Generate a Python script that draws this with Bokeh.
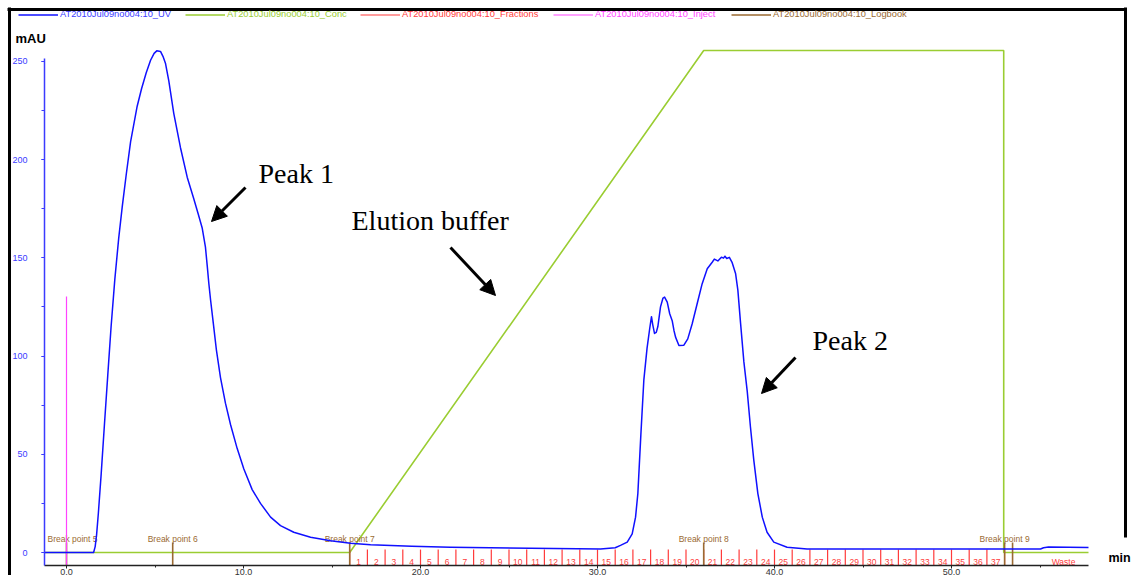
from bokeh.plotting import figure
from bokeh.models import (Range1d, LinearAxis, SingleIntervalTicker, FixedTicker,
                          PrintfTickFormatter, Label, Arrow, NormalHead, Legend,
                          LegendItem, ColumnDataSource)
from bokeh.core.properties import value
from bokeh.embed import file_html
from bokeh.resources import INLINE

# ---------------- data ----------------
uv_time = [-1.24, 1.53, 1.62, 1.70, 1.80, 1.96, 2.15, 2.33, 2.52, 2.73, 2.95, 3.15, 3.37,
           3.62, 3.99, 4.24, 4.50, 4.75, 4.95, 5.10, 5.31, 5.45, 5.59, 5.78, 6.06, 6.44,
           6.82, 7.19, 7.45, 7.67, 7.85, 7.95, 8.04, 8.14, 8.29, 8.47, 8.70, 8.98, 9.27,
           9.64, 10.02, 10.49, 10.96, 11.53, 12.09, 12.84, 13.79, 14.92, 16.05, 17.18,
           19.5, 21.69, 26.21, 30.17, 31.0, 31.3, 31.68, 31.96, 32.15, 32.28, 32.45,
           32.62, 32.80, 32.95, 33.05, 33.12, 33.22, 33.32, 33.41, 33.56, 33.70, 33.79,
           33.94, 34.08, 34.22, 34.32, 34.41, 34.60, 34.88, 35.10, 35.35, 35.63, 35.91,
           36.20, 36.48, 36.60, 36.80, 37.00, 37.12, 37.20, 37.30, 37.45, 37.61, 37.80,
           37.93, 38.08, 38.27, 38.46, 38.64, 38.83, 39.06, 39.31, 39.58, 39.96, 40.71,
           41.84, 47.12, 55.03, 55.20, 55.48, 57.74]
uv_mau = [0.0, 0.0, 3.0, 9.0, 20.0, 40.0, 66.0, 90.0, 115.0, 139.0, 160.0, 176.0, 192.0,
          209.0, 227.0, 236.0, 244.0, 250.5, 254.0, 255.3, 255.0, 252.5, 249.0, 240.0, 223.5, 206.0,
          191.0, 180.0, 172.0, 165.0, 155.4, 146.0, 137.0, 128.5, 117.0, 103.0, 89.0, 76.0, 65.0,
          53.0, 42.5, 32.0, 25.0, 18.0, 13.7, 10.3, 7.8, 6.0, 4.7, 3.9,
          3.2, 2.7, 2.1, 1.8, 2.4, 3.6, 5.3, 9.5, 18.0, 30.0, 60.0,
          88.0, 104.0, 114.0, 120.0, 116.0, 111.5, 112.0, 115.0, 125.0, 129.5, 130.0,
          127.4, 121.5, 118.0, 113.0, 109.6, 105.3, 105.5, 108.7, 116.4, 126.6, 136.7,
          144.4, 147.7, 149.3, 148.4, 150.3, 149.8, 150.8, 149.6, 150.2, 147.5, 142.0,
          133.5, 117.0, 97.0, 82.0, 64.0, 47.0, 30.0, 18.0, 10.3, 5.3, 2.7,
          1.8, 1.8, 1.8, 2.4, 2.8, 2.6]

conc_time = [-1.24, 16.0, 36.0, 52.95, 52.95, 57.74]
conc_pct = [0, 0, 100, 100, 0, 0]

fraction_edges = [16.0, 17.0, 18.0, 19.0, 20.0, 21.0, 22.0, 23.0, 24.0, 25.0, 26.0, 27.0,
                  28.0, 29.0, 30.0, 31.0, 32.0, 33.0, 34.0, 35.0, 36.0, 37.0, 38.0, 39.0,
                  40.0, 41.0, 42.0, 43.0, 44.0, 45.0, 46.0, 47.0, 48.0, 49.0, 50.0, 51.0,
                  52.0, 53.0]
fraction_names = ["1", "2", "3", "4", "5", "6", "7", "8", "9", "10", "11", "12", "13",
                  "14", "15", "16", "17", "18", "19", "20", "21", "22", "23", "24", "25",
                  "26", "27", "28", "29", "30", "31", "32", "33", "34", "35", "36", "37"]
waste_name = "Waste"
run_end = 59.66

inject_time = [0.0]
inject_marker_top = [130.3]

logbook_time = [0.0, 6.0, 16.0, 36.0, 53.0, 53.45]
logbook_text = ["Break point 5", "Break point 6", "Break point 7", "Break point 8",
                "Break point 9", ""]

series_names = ["AT2010Jul09no004:10_UV", "AT2010Jul09no004:10_Conc",
                "AT2010Jul09no004:10_Fractions", "AT2010Jul09no004:10_Inject",
                "AT2010Jul09no004:10_Logbook"]

# ---------------- layout / style ----------------
W, H = 1135, 575
X0_PX, PX_PER_MIN = 66.0, 17.7
Y0_PX, PX_PER_MAU = 552.0, 1.965


def xd(px):
    return (px - X0_PX) / PX_PER_MIN


def yd(py):
    return (Y0_PX - py) / PX_PER_MAU


BLUE = "#1010ff"
BLUE_TXT = "#3b3bff"
GREEN = "#9acd32"
RED = "#ff3b3b"
MAGENTA = "#ff44ff"
BROWN = "#9a6a32"
SANS = "Liberation Sans"
SERIF = "Liberation Serif"

conc_full = yd(50)  # 100 % B sits at this mAU-equivalent height

p = figure(width=W, height=H, x_range=Range1d(xd(0), xd(W)),
           y_range=Range1d(yd(H), yd(0)), output_backend="svg",
           toolbar_location=None, x_axis_location=None, y_axis_location=None,
           min_border=0, outline_line_color=None)
p.extra_y_ranges = {"conc": Range1d(yd(H) * 100 / conc_full, yd(0) * 100 / conc_full)}
p.grid.visible = False
p.background_fill_color = "white"
p.border_fill_color = "white"

axis_bottom = yd(565)


# ---- frame border (black) built from bare axes ----
def border_axis(loc, bounds, side):
    ax = LinearAxis(fixed_location=loc, bounds=bounds, ticker=FixedTicker(ticks=[]),
                    axis_line_color="black", axis_line_width=3,
                    major_tick_line_color=None, minor_tick_line_color=None,
                    major_label_text_alpha=0)
    p.add_layout(ax, side)


border_axis(xd(8.5), (yd(H + 5), yd(7)), "left")
border_axis(yd(8.5), (xd(7), xd(1126)), "above")
border_axis(xd(1124.5), (yd(537), yd(7)), "right")

# ---- y axis (mAU) ----
yax = LinearAxis(fixed_location=xd(44), bounds=(axis_bottom, 251.5),
                 ticker=SingleIntervalTicker(interval=50, num_minor_ticks=2),
                 axis_line_color=BLUE_TXT, axis_line_width=1.5,
                 major_tick_line_color=BLUE_TXT, minor_tick_line_color=BLUE_TXT,
                 major_tick_out=3, major_tick_in=0, minor_tick_out=3, minor_tick_in=0,
                 major_label_standoff=14, major_label_text_color=BLUE_TXT,
                 major_label_text_font=SANS, major_label_text_font_size="9px")
p.add_layout(yax, "left")

# ---- x axis (min) ----
xax = LinearAxis(fixed_location=axis_bottom, bounds=(xd(44), xd(1088)),
                 ticker=SingleIntervalTicker(interval=10, num_minor_ticks=2),
                 formatter=PrintfTickFormatter(format="%.1f"),
                 axis_line_color="#222222", axis_line_width=1.5,
                 major_tick_line_color="#222222", minor_tick_line_color="#222222",
                 major_tick_out=3, major_tick_in=0, minor_tick_out=2, minor_tick_in=0,
                 major_label_standoff=0, major_label_text_color="#333333",
                 major_label_text_font=SANS, major_label_text_font_size="9px")
p.add_layout(xax, "below")

# ---- curves & markers ----
r_conc = p.line(conc_time, conc_pct, y_range_name="conc", line_color=GREEN, line_width=1.6)

frac_src = ColumnDataSource(dict(x=fraction_edges, y0=[axis_bottom] * len(fraction_edges),
                                 y1=[1.5] * len(fraction_edges)))
r_frac = p.segment(x0="x", y0="y0", x1="x", y1="y1", source=frac_src,
                   line_color=RED, line_width=1.2)

centers = [(a + b) / 2 for a, b in zip(fraction_edges[:-1], fraction_edges[1:])]
centers.append((fraction_edges[-1] + run_end) / 2)
flab_src = ColumnDataSource(dict(x=centers, t=fraction_names + [waste_name]))
p.text(x="x", y=yd(561), text="t", source=flab_src, text_color=RED,
       text_font=value(SANS), text_font_size="8.5px", text_align="center",
       text_baseline="middle")

log_src = ColumnDataSource(dict(x=logbook_time, y0=[axis_bottom] * len(logbook_time),
                                y1=[yd(542)] * len(logbook_time), t=logbook_text,
                                dx=[6, 0, 0, 0, 0, 0]))
r_log = p.segment(x0="x", y0="y0", x1="x", y1="y1", source=log_src,
                  line_color=BROWN, line_width=1.6)
p.text(x="x", y=yd(538), text="t", x_offset="dx", source=log_src, text_color=BROWN,
       text_font=value(SANS), text_font_size="8.5px", text_align="center",
       text_baseline="middle")

inj_src = ColumnDataSource(dict(x=inject_time, y0=[axis_bottom], y1=inject_marker_top))
r_inj = p.segment(x0="x", y0="y0", x1="x", y1="y1", source=inj_src,
                  line_color=MAGENTA, line_width=1.2)

r_uv = p.line(uv_time, uv_mau, line_color=BLUE, line_width=1.5, line_join="round")

# ---- legends (one per series so each label keeps its colour) ----
legend_specs = [(r_uv, BLUE_TXT, 18), (r_conc, GREEN, 185), (r_frac, RED, 360),
                (r_inj, MAGENTA, 553), (r_log, BROWN, 731)]
for (rend, col, lx), name in zip(legend_specs, series_names):
    leg = Legend(items=[LegendItem(label=name, renderers=[rend])],
                 location=(lx, H - 19), orientation="horizontal",
                 glyph_width=40, glyph_height=9, label_height=9, label_width=10,
                 label_standoff=2, padding=0, margin=0, spacing=0,
                 border_line_color=None, background_fill_alpha=0,
                 label_text_font=SANS, label_text_font_size="9.3px",
                 label_text_color=col, label_text_baseline="middle")
    p.add_layout(leg)

# ---- axis captions ----
p.add_layout(Label(x=xd(15), y=yd(45), text="mAU", text_font=SANS, text_font_size="13px",
                   text_font_style="bold", text_color="black"))
p.add_layout(Label(x=xd(1108), y=yd(564), text="min", text_font=SANS, text_font_size="12.5px",
                   text_font_style="bold", text_color="black"))

# ---- annotations ----
for txt, px, py in [("Peak 1", 258, 188), ("Elution buffer", 351, 235), ("Peak 2", 812, 355)]:
    p.add_layout(Label(x=xd(px), y=yd(py), text=txt, text_font=SERIF,
                       text_font_size="28px", text_color="black"))

for (x0, y0, x1, y1) in [(245, 187, 211, 221), (450, 247, 495, 295), (795, 357, 761, 393)]:
    p.add_layout(Arrow(x_start=xd(x0), y_start=yd(y0), x_end=xd(x1), y_end=yd(y1),
                       line_color="black", line_width=3,
                       end=NormalHead(size=15, fill_color="black", line_color="black")))

open("out.html", "w").write(file_html(p, INLINE))
